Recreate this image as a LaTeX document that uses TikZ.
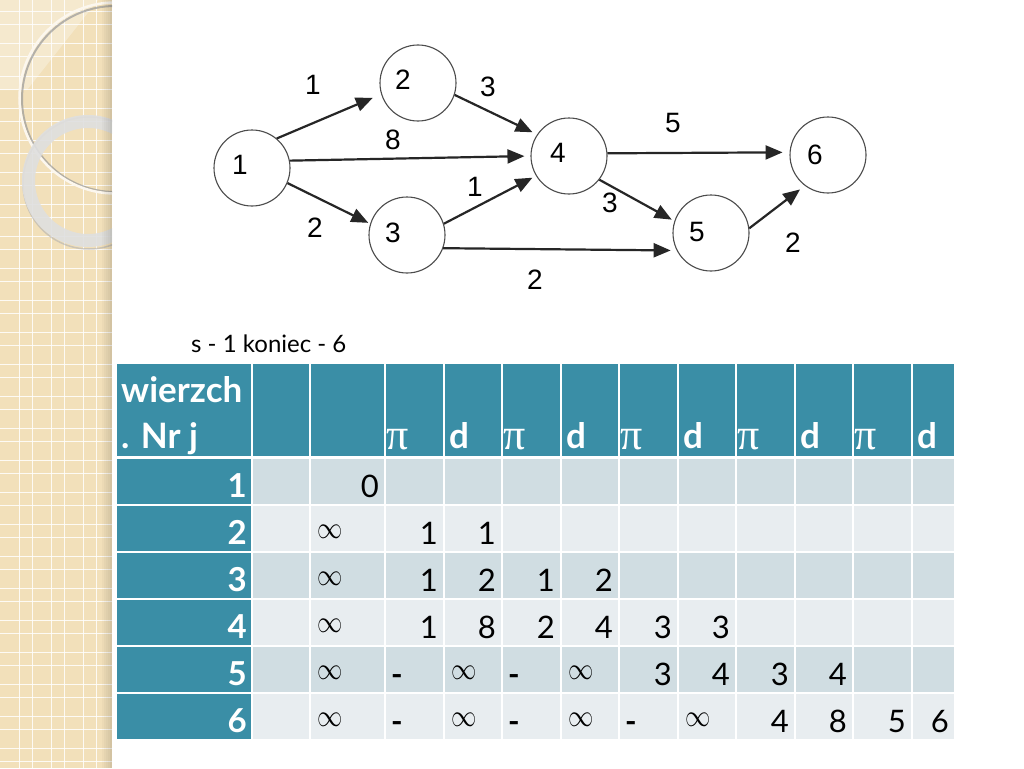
\documentclass[tikz,border=0pt]{standalone}
\usepackage{fontspec}
\setmainfont{Lato}
\newfontfamily\gfont{Liberation Sans}
\newfontfamily\pifont{Liberation Serif}
\usetikzlibrary{arrows.meta}
\definecolor{tealhd}{RGB}{58,142,166}
\definecolor{rowA}{RGB}{208,221,226}
\definecolor{rowB}{RGB}{232,237,240}
\definecolor{beige}{RGB}{242,224,186}
\begin{document}
\begin{tikzpicture}[x=1pt,y=-1pt,
  vtx/.style={circle,draw=black!70,line width=1.1pt,minimum size=76pt,inner sep=0pt},
  vlab/.style={font=\gfont\fontsize{28}{28}\selectfont,inner sep=0pt},
  elab/.style={font=\gfont\fontsize{28}{28}\selectfont,inner sep=0pt},
  edge/.style={line width=2.2pt,black!85,-{Triangle[length=17pt,width=14pt]}},
  num/.style={anchor=base east,inner sep=0pt,font=\fontsize{31}{31}\selectfont},
  hyph/.style={anchor=base west,inner sep=0pt,font=\bfseries\fontsize{31}{31}\selectfont},
  infty/.style={anchor=west,inner sep=0pt,font=\fontsize{20}{20}\selectfont},
  rlab/.style={anchor=base east,inner sep=0pt,text=white,font=\bfseries\fontsize{33}{33}\selectfont},
  hd/.style={anchor=base west,inner sep=0pt,text=white,font=\bfseries\fontsize{35}{35}\selectfont},
  hpi/.style={anchor=base west,inner sep=0pt,text=white,font=\pifont\fontsize{44}{44}\selectfont},
]
\useasboundingbox (0,0) rectangle (1024,768);
\fill[white] (0,0) rectangle (1024,768);

% ---------- left decorative strip ----------
\begin{scope}
\clip (0,0) rectangle (112,768);
\fill[beige] (0,0) rectangle (112,768);
\fill[white,opacity=0.3] (0,0) -- (98,0) -- (27,90) -- (0,90) -- cycle;
\foreach \k in {0,...,3} {
  \draw[white,opacity=0.85,line width=1pt] (19+32*\k,0) -- (19+32*\k,768);
  \draw[white,opacity=0.85,line width=1pt] (32+32*\k,0) -- (32+32*\k,768);
}
\foreach \k in {0,...,23} {
  \draw[white,opacity=0.85,line width=1pt] (0,12+32*\k) -- (112,12+32*\k);
  \draw[white,opacity=0.85,line width=1pt] (0,25+32*\k) -- (112,25+32*\k);
}
\draw[black!40,line width=2pt,opacity=0.7] (115,99) circle (93);
\draw[white!75!beige,line width=2.5pt] (115,98) circle (95.5);
\draw[black!30,line width=1.5pt,opacity=0.6] (89,183) circle (66);
\draw[gray!25!white,opacity=0.9,line width=13pt] (88,181) circle (59.5);
\foreach \i in {0,...,5}
  \fill[black,opacity=0.025*\i] (100+2*\i,0) rectangle (102+2*\i,768);
\end{scope}

% ---------- graph ----------
\node[vtx,label={[vlab,xshift=-12pt,yshift=3pt]center:1}] (v1) at (252,168) {};
\node[vtx,label={[vlab,xshift=-15pt,yshift=3pt]center:2}] (v2) at (418,83) {};
\node[vtx,label={[vlab,xshift=-14pt,yshift=2pt]center:3}] (v3) at (407,235) {};
\node[vtx,label={[vlab,xshift=-11pt,yshift=3pt]center:4}] (v4) at (569,156) {};
\node[vtx,label={[vlab,xshift=-14pt,yshift=1pt]center:5}] (v5) at (711,233) {};
\node[vtx,label={[vlab,xshift=-13pt,yshift=0pt]center:6}] (v6) at (828,155) {};

\draw[edge,shorten >=9pt] (v1.50) -- (v2.197);
\draw[edge,shorten >=6pt] (v1.11) -- (v4.180);
\draw[edge,shorten >=2pt] (v1.-23) -- (v3.163);
\draw[edge,shorten >=4pt] (v3.17) -- (v4.211);
\draw[edge,shorten >=5pt] (v2.-18) -- (v4.146);
\draw[edge,shorten >=6pt] (v3.-20) -- (v5.207);
\draw[edge,shorten >=7pt] (v4.4) -- (v6.176);
\draw[edge,shorten >=3pt] (v4.-38) -- (v5.162);
\draw[edge,shorten >=6pt] (v5.7) -- (v6.233);

\node[elab] (w12) at (313,85) {1};
\node[elab] (w14) at (393,140) {8};
\node[elab] (w13) at (315,228) {2};
\node[elab] (w24) at (488,87) {3};
\node[elab] (w34) at (475,187) {1};
\node[elab] (w35) at (535,280) {2};
\node[elab] (w46) at (673,123) {5};
\node[elab] (w45) at (610,203) {3};
\node[elab] (w56) at (793,243) {2};

% ---------- caption ----------
\node[anchor=base west,inner sep=0pt,font=\fontsize{24}{24}\selectfont] (cap) at (191,352) {s - 1 koniec - 6};

% ---------- table ----------
\foreach \l/\r in {116/252,252/310,310/385,385/444,444/502,502/561,561/619,619/678,678/736,736/795,795/853,853/912,912/955}
  \fill[tealhd] (\l+1,364) rectangle (\r-1,456);
\foreach \t/\b/\c in {459/504/rowA,506/551/rowB,553/598/rowA,600/645/rowB,647/692/rowA,694/739/rowB}{
  \fill[tealhd] (117,\t) rectangle (251,\b);
  \foreach \l/\r in {252/310,310/385,385/444,444/502,502/561,561/619,619/678,678/736,736/795,795/853,853/912,912/955}
    \fill[\c] (\l+1,\t) rectangle (\r-1,\b);
}

\node[hd] (hw) at (121,402) {wierzch};
\node[hd] (hn) at (121,448) {. Nr j};
\foreach \l [count=\k] in {385,502,619,736,853}
  \node[hpi] (hp\k) at (\l+1,449) {π};
\foreach \l [count=\k] in {444,561,678,795,912}
  \node[hd] (hd\k) at (\l+5,448) {d};

\foreach \y [count=\k] in {497,544,591,638,685,732}
  \node[rlab] (rl\k) at (247,\y) {\k};

\foreach \y/\x/\v [count=\k] in {497/379/0,
  544/438/1,544/496/1,
  591/438/1,591/496/2,591/555/1,591/613/2,
  638/438/1,638/496/8,638/555/2,638/613/4,638/672/3,638/730/3,
  685/672/3,685/730/4,685/789/3,685/847/4,
  732/789/4,732/847/8,732/906/5,732/949/6}
  \node[num] (nm\k) at (\x,\y) {\v};

\foreach \y/\x [count=\k] in {531.5/317,578.5/317,625.5/317,672.5/317,719.5/317,
  672.5/451,672.5/568,719.5/451,719.5/568,719.5/685}
  \node[infty] (inf\k) at (\x,\y) {\scalebox{1.22}[1.5]{$\infty$}};

\foreach \y/\x [count=\k] in {685/391,685/508,732/391,732/508,732/625}
  \node[hyph] (ds\k) at (\x,\y) {-};
\end{tikzpicture}
\end{document}
